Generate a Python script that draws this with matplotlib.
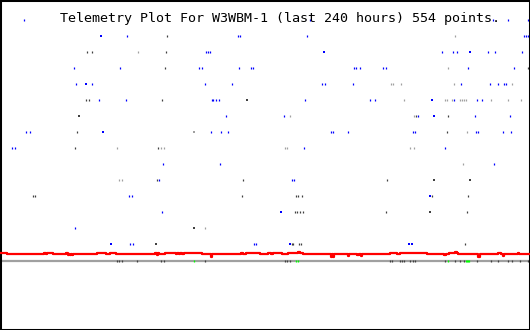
import matplotlib
matplotlib.use("Agg")
import matplotlib.pyplot as plt

title = "Telemetry Plot For W3WBM-1 (last 240 hours) 554 points."

BLUE = "#0000ff"
DARK = "#404040"
LIGHT = "#a0a0a0"
RED = "#ff0000"
GREEN = "#00ff00"

# scattered telemetry samples (time column, level)
blue_x = [24, 310, 493, 508, 528,
          127, 238, 240, 307, 524, 526, 528,
          206, 208, 210, 442, 453, 457, 488, 495, 522,
          120, 199, 202, 239, 251, 253, 354, 356, 360, 383, 386, 468, 514,
          74, 76, 92, 205, 232, 322, 325, 353, 461, 490, 498, 504, 506,
          99, 126, 212, 213, 216, 219, 305, 370, 375, 454, 477, 482,
          226, 284, 418, 475, 510,
          26, 30, 211, 221, 228, 331, 333, 348, 413, 415, 476, 478, 503, 511,
          12, 15, 304, 445,
          163, 220, 494,
          159, 292, 294,
          129, 132,
          162,
          75,
          130, 133, 254, 256]
blue_y = [20] * 5 + [36] * 7 + [52] * 9 + [68] * 14 + [84] * 12 + [100] * 12 \
    + [116] * 5 + [132] * 14 + [148] * 4 + [164] * 3 + [180] * 3 + [196] * 2 \
    + [212] + [228] + [244] * 4

dark_x = [167,
          87, 92, 166,
          165, 528,
          86, 89, 162,
          416, 448,
          77, 447,
          75, 158,
          157, 243, 387,
          33, 35, 242, 296, 298, 302, 432, 468,
          295, 297, 300, 303, 386, 467,
          292, 293, 299, 301, 465]
dark_y = [36] + [52] * 3 + [68] * 2 + [100] * 3 + [116] * 2 + [132] * 2 \
    + [148] * 2 + [180] * 3 + [196] * 8 + [212] * 6 + [244] * 5

light_x = [455,
           138,
           448,
           391, 393, 401, 454, 512,
           404, 445, 447, 452, 460, 462, 464, 466, 491, 508, 521,
           290, 414,
           467,
           117, 161, 164, 285, 287, 410, 414,
           463,
           119, 122,
           205]
light_y = [36] + [52] + [68] + [84] * 5 + [100] * 11 + [116] * 2 + [132] \
    + [148] * 7 + [164] + [180] * 2 + [228]

sq_x = [101, 86, 324, 470, 247, 432, 79, 434, 103, 194, 434, 470, 430, 281,
        430, 194, 111, 156, 290, 409, 412]
sq_y = [36, 84, 52, 52, 100, 100, 116, 116, 132, 132, 180, 180, 196, 212,
        212, 228, 244, 244, 244, 244, 244]
sq_c = [BLUE, BLUE, BLUE, BLUE, DARK, BLUE, DARK, BLUE, BLUE, LIGHT, DARK,
        DARK, BLUE, BLUE, DARK, DARK, BLUE, DARK, BLUE, BLUE, BLUE]

# main trace (step breakpoints)
red_x = [0, 7, 44, 46, 47, 53, 66, 68, 69, 70, 71, 72, 73, 74, 97, 106, 110,
         116, 155, 157, 158, 159, 165, 170, 176, 177, 179, 180, 182, 184, 199,
         202, 211, 212, 241, 243, 246, 260, 268, 271, 273, 282, 288, 298, 300,
         303, 331, 332, 333, 334, 348, 349, 357, 359, 361, 362, 390, 397, 400,
         427, 444, 446, 449, 455, 457, 458, 478, 480, 498, 501, 503, 504, 518,
         519, 530]
red_y = [253, 254, 253, 254, 253, 254, 253, 255, 254, 255, 254, 255, 254, 254,
         253, 254, 253, 254, 253, 255, 253, 254, 253, 252.5, 253.5, 252.5,
         253.5, 252.5, 253.5, 252.5, 253, 254, 256.5, 254, 253, 254, 253, 254,
         253, 254, 253, 254, 253, 252, 253, 254, 256.5, 254, 256.5, 254, 256,
         254, 255, 254, 256, 254, 253, 254, 253, 254, 255, 254, 253, 252, 253,
         254, 256.5, 254, 253, 254, 256, 254, 253, 254, 254]

base_level = 261
base_dark_x = [117, 119, 122, 137, 161, 164, 205, 285, 287, 290, 390, 392,
               400, 402, 404, 410, 413, 415, 445, 455, 460, 464, 477, 491,
               498, 508, 512, 520, 528]
base_green_x = [194, 296, 298, 448, 466, 467, 468, 469]

fig = plt.figure(figsize=(5.3, 3.3), dpi=100)
ax = fig.add_axes([0, 0, 1, 1])
ax.set_xlim(0, 530)
ax.set_ylim(330, 0)
ax.set_xticks([])
ax.set_yticks([])
for s in ax.spines.values():
    s.set_linewidth(2.2)
    s.set_color("black")

tick = dict(marker="|", linestyle="none", markersize=1.6, markeredgewidth=0.9)
ax.plot([0, 530], [base_level, base_level], color=LIGHT, lw=1.6,
        solid_capstyle="butt", zorder=1)
ax.plot(base_dark_x, [base_level] * len(base_dark_x), color=DARK, zorder=2, **tick)
ax.plot(base_green_x, [base_level] * len(base_green_x), color=GREEN, zorder=2, **tick)

ax.step(red_x, red_y, where="post", color=RED, lw=1.6, zorder=3)

ax.plot(blue_x, blue_y, color=BLUE, **tick)
ax.plot(dark_x, dark_y, color=DARK, **tick)
ax.plot(light_x, light_y, color=LIGHT, **tick)
ax.scatter(sq_x, sq_y, c=sq_c, marker="s", s=2.2, linewidths=0)

ax.text(60, 22, title, family="DejaVu Sans Mono", fontsize=9.6,
        ha="left", va="baseline", color="black")

fig.savefig("out.png", dpi=100)
